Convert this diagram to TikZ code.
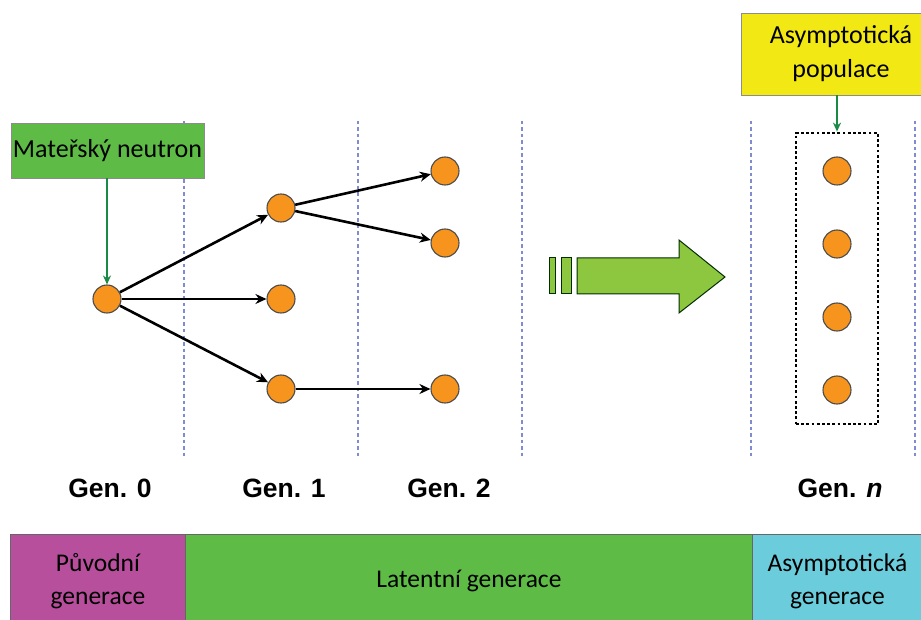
\documentclass[tikz,border=0pt]{standalone}
\usepackage{fontspec}
\setmainfont{Carlito}
\newfontfamily\genfont{Liberation Sans}
\usetikzlibrary{arrows.meta}
\definecolor{oranzova}{HTML}{F7941D}
\definecolor{trava}{HTML}{5DBB46}
\definecolor{tmavazelena}{HTML}{1B8A44}
\definecolor{svetlazelena}{HTML}{8DC63F}
\definecolor{zluta}{HTML}{F2E814}
\definecolor{purpur}{HTML}{B84F9C}
\definecolor{tyrkys}{HTML}{6BCDDC}
\definecolor{modrased}{RGB}{128,140,208}
\begin{document}
\begin{tikzpicture}[x=1pt,y=-1pt]
  \tikzset{neutron/.style={circle,draw=black!70, fill=oranzova, minimum size=28pt, inner sep=0pt, line width=1.1pt},
    sipka/.style={-{Stealth[length=11pt,width=10pt]}, line width=2.6pt, black},
    zelenasipka/.style={-{Stealth[length=9pt,width=8pt]}, line width=2pt, tmavazelena},
    hranice/.style={modrased, line width=1.5pt, dash pattern=on 3.5pt off 3pt},
    popisek/.style={draw=black!45, line width=0.9pt, inner sep=2pt, align=center, font=\fontsize{26}{32}\selectfont},
    pruh/.style={draw=black!60, line width=0.9pt, anchor=north west, minimum height=94pt, inner sep=0pt, align=center, font=\fontsize{25.5}{33}\selectfont},
    gen/.style={font=\genfont\bfseries\fontsize{26.5}{30}\selectfont}}
  \useasboundingbox (0,0) rectangle (921,620);
  % hranice generaci
  \foreach \x in {184,358,522,751,915}
    \draw[hranice] (\x,121) -- (\x,458);
  % neutrony
  \node[neutron] (g0) at (107,299) {};
  \node[neutron] (g1a) at (281,208) {};
  \node[neutron] (g1b) at (281,299) {};
  \node[neutron] (g1c) at (281,389) {};
  \node[neutron] (g2a) at (445,171) {};
  \node[neutron] (g2b) at (445,243) {};
  \node[neutron] (g2c) at (445,389) {};
  \foreach \y/\n in {171/a,244/b,317/c,390/d}
    \node[neutron] (gn\n) at (837,\y) {};
  \draw[sipka] (g0) -- (g1a);
  \draw[sipka] (g0) -- (g1b);
  \draw[sipka] (g0) -- (g1c);
  \draw[sipka] (g1a) -- (g2a);
  \draw[sipka] (g1a) -- (g2b);
  \draw[sipka] (g1c) -- (g2c);
  % asymptoticka populace
  \node[draw=black, line width=2.8pt, dash pattern=on 2.8pt off 2.4pt, minimum width=82pt, minimum height=291pt, inner sep=0pt] (ramec) at (837,278.5) {};
  \node[popisek, fill=trava, minimum width=193pt, minimum height=55pt] (matka) at (107.5,150.5) {Mateřský neutron};
  \node[popisek, fill=zluta, minimum width=200pt, minimum height=82pt, font=\fontsize{26}{34}\selectfont] (pop) at (841,54) {Asymptotická\\populace};
  \draw[zelenasipka] (matka.south -| g0) -- (g0);
  \draw[zelenasipka] (pop.south -| ramec) -- (ramec.north);
  % velka sipka
  \begin{scope}[fill=svetlazelena, draw=black!55!green!40!black, line width=1pt]
    \filldraw (549,258) rectangle (555,294);
    \filldraw (561,258) rectangle (571,294);
    \filldraw (577,258) -- (679,258) -- (679,240) -- (725,277) -- (679,313) -- (679,294) -- (577,294) -- cycle;
  \end{scope}
  % popisky generaci
  \node[gen] (l0) at (110,488) {Gen. 0};
  \node[gen] (l1) at (284,488) {Gen. 1};
  \node[gen] (l2) at (449,488) {Gen. 2};
  \node[gen] (ln) at (840,488) {Gen. \textit{n}};
  % pruhy
  \node[pruh, fill=purpur, minimum width=175pt] (puv) at (10,534) {Původní\\generace};
  \node[pruh, fill=trava, minimum width=567pt] (lat) at (185,534) {Latentní generace};
  \node[pruh, fill=tyrkys, minimum width=170pt] (asy) at (752,534) {Asymptotická\\generace};
\end{tikzpicture}
\end{document}
